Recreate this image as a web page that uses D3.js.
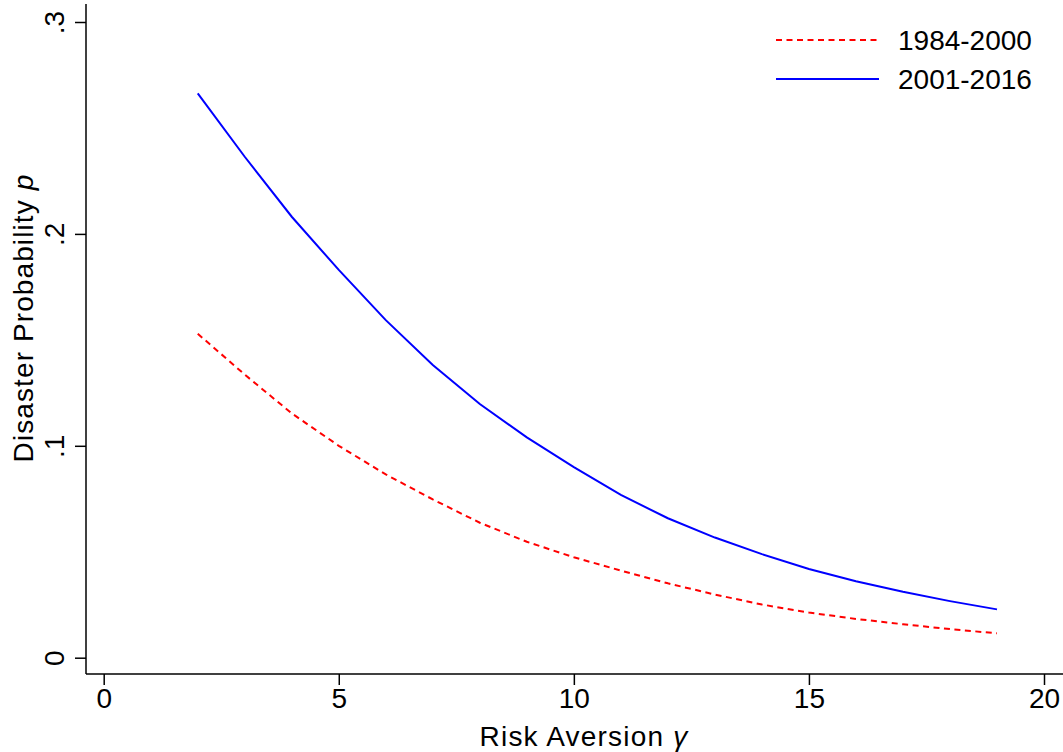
<!DOCTYPE html>
<html>
<head>
<meta charset="utf-8">
<script src="https://cdn.jsdelivr.net/npm/d3@7"></script>
<style>
  body { margin: 0; background: #fff; }
  text { font-family: "Liberation Sans", Arial, Helvetica, sans-serif; fill: #000; }
</style>
</head>
<body>
<svg id="chart" width="1063" height="752"></svg>
<script>
// risk aversion gamma
const gamma = [2, 3, 4, 5, 6, 7, 8, 9, 10, 11, 12, 13, 14, 15, 16, 17, 18, 19];
// disaster probability, 1984-2000
const p1984 = [0.1529, 0.1336, 0.1153, 0.1000, 0.0865, 0.0747, 0.0637, 0.0547, 0.0474,
               0.0411, 0.0351, 0.0298, 0.0251, 0.0213, 0.0183, 0.0158, 0.0135, 0.0115];
// disaster probability, 2001-2016
const p2001 = [0.2663, 0.2364, 0.2081, 0.1830, 0.1593, 0.1381, 0.1197, 0.1040, 0.0899,
               0.0768, 0.0658, 0.0567, 0.0489, 0.0419, 0.0361, 0.0311, 0.0267, 0.0228];
const xTicks = [0, 5, 10, 15, 20];
const yTicks = [0, 0.1, 0.2, 0.3];
const seriesNames = ['1984-2000', '2001-2016'];

const svg = d3.select('#chart');
const fontSize = 28;

const x = d3.scaleLinear().domain([0, 20]).range([103.7, 1044]);
const y = d3.scaleLinear().domain([0, 0.3]).range([657.7, 22]);

// axes sit outside the plot region, Stata style
const xAxisY = 674, yAxisX = 86;

const xAxis = svg.append('g')
  .attr('transform', `translate(0,${xAxisY})`)
  .call(d3.axisBottom(x).tickValues(xTicks).tickSize(11).tickPadding(3).tickFormat(d3.format('d')));
xAxis.select('.domain').remove();
xAxis.append('line')
  .attr('x1', yAxisX).attr('x2', 1063)
  .attr('stroke', '#000').attr('stroke-width', 1.5);
xAxis.selectAll('.tick line').attr('stroke-width', 1.5);
xAxis.selectAll('.tick text')
  .attr('font-size', fontSize)
  .attr('font-family', null);

const yAxis = svg.append('g')
  .attr('transform', `translate(${yAxisX},0)`)
  .call(d3.axisLeft(y).tickValues(yTicks).tickSize(11).tickPadding(0)
    .tickFormat(d => d === 0 ? '0' : d3.format('.1f')(d).replace(/^0/, '')));
yAxis.select('.domain').remove();
yAxis.append('line')
  .attr('y1', 4).attr('y2', xAxisY)
  .attr('stroke', '#000').attr('stroke-width', 1.5);
yAxis.selectAll('.tick line').attr('stroke-width', 1.5);
yAxis.selectAll('.tick text')
  .attr('font-size', fontSize)
  .attr('font-family', null)
  .attr('x', null).attr('dy', null)
  .attr('text-anchor', 'middle')
  .attr('transform', 'translate(-22,0) rotate(-90)');

// axis titles
svg.append('text')
  .attr('x', 584).attr('y', 746)
  .attr('text-anchor', 'middle')
  .attr('font-size', fontSize)
  .attr('letter-spacing', 1.2)
  .text('Risk Aversion ')
  .append('tspan').attr('font-style', 'italic').text('γ');

svg.append('text')
  .attr('transform', 'translate(33,318) rotate(-90)')
  .attr('text-anchor', 'middle')
  .attr('font-size', fontSize)
  .attr('letter-spacing', 1.1)
  .text('Disaster Probability ')
  .append('tspan').attr('font-style', 'italic').text('p');

// lines
const line = d3.line().x(d => x(d[0])).y(d => y(d[1]));

svg.append('path')
  .datum(d3.zip(gamma, p1984))
  .attr('d', line)
  .attr('fill', 'none')
  .attr('stroke', '#ff0000')
  .attr('stroke-width', 2)
  .attr('stroke-dasharray', '6,4.5');

svg.append('path')
  .datum(d3.zip(gamma, p2001))
  .attr('d', line)
  .attr('fill', 'none')
  .attr('stroke', '#0000ff')
  .attr('stroke-width', 2);

// legend
const legend = svg.append('g');
const legendStyles = [
  { color: '#ff0000', dash: '6,4.5', y: 40 },
  { color: '#0000ff', dash: null, y: 79 }
];
legendStyles.forEach((s, i) => {
  legend.append('line')
    .attr('x1', 776).attr('x2', 879)
    .attr('y1', s.y).attr('y2', s.y)
    .attr('stroke', s.color).attr('stroke-width', 2)
    .attr('stroke-dasharray', s.dash);
  legend.append('text')
    .attr('x', 898).attr('y', s.y + 10)
    .attr('font-size', fontSize)
    .text(seriesNames[i]);
});
</script>
</body>
</html>
